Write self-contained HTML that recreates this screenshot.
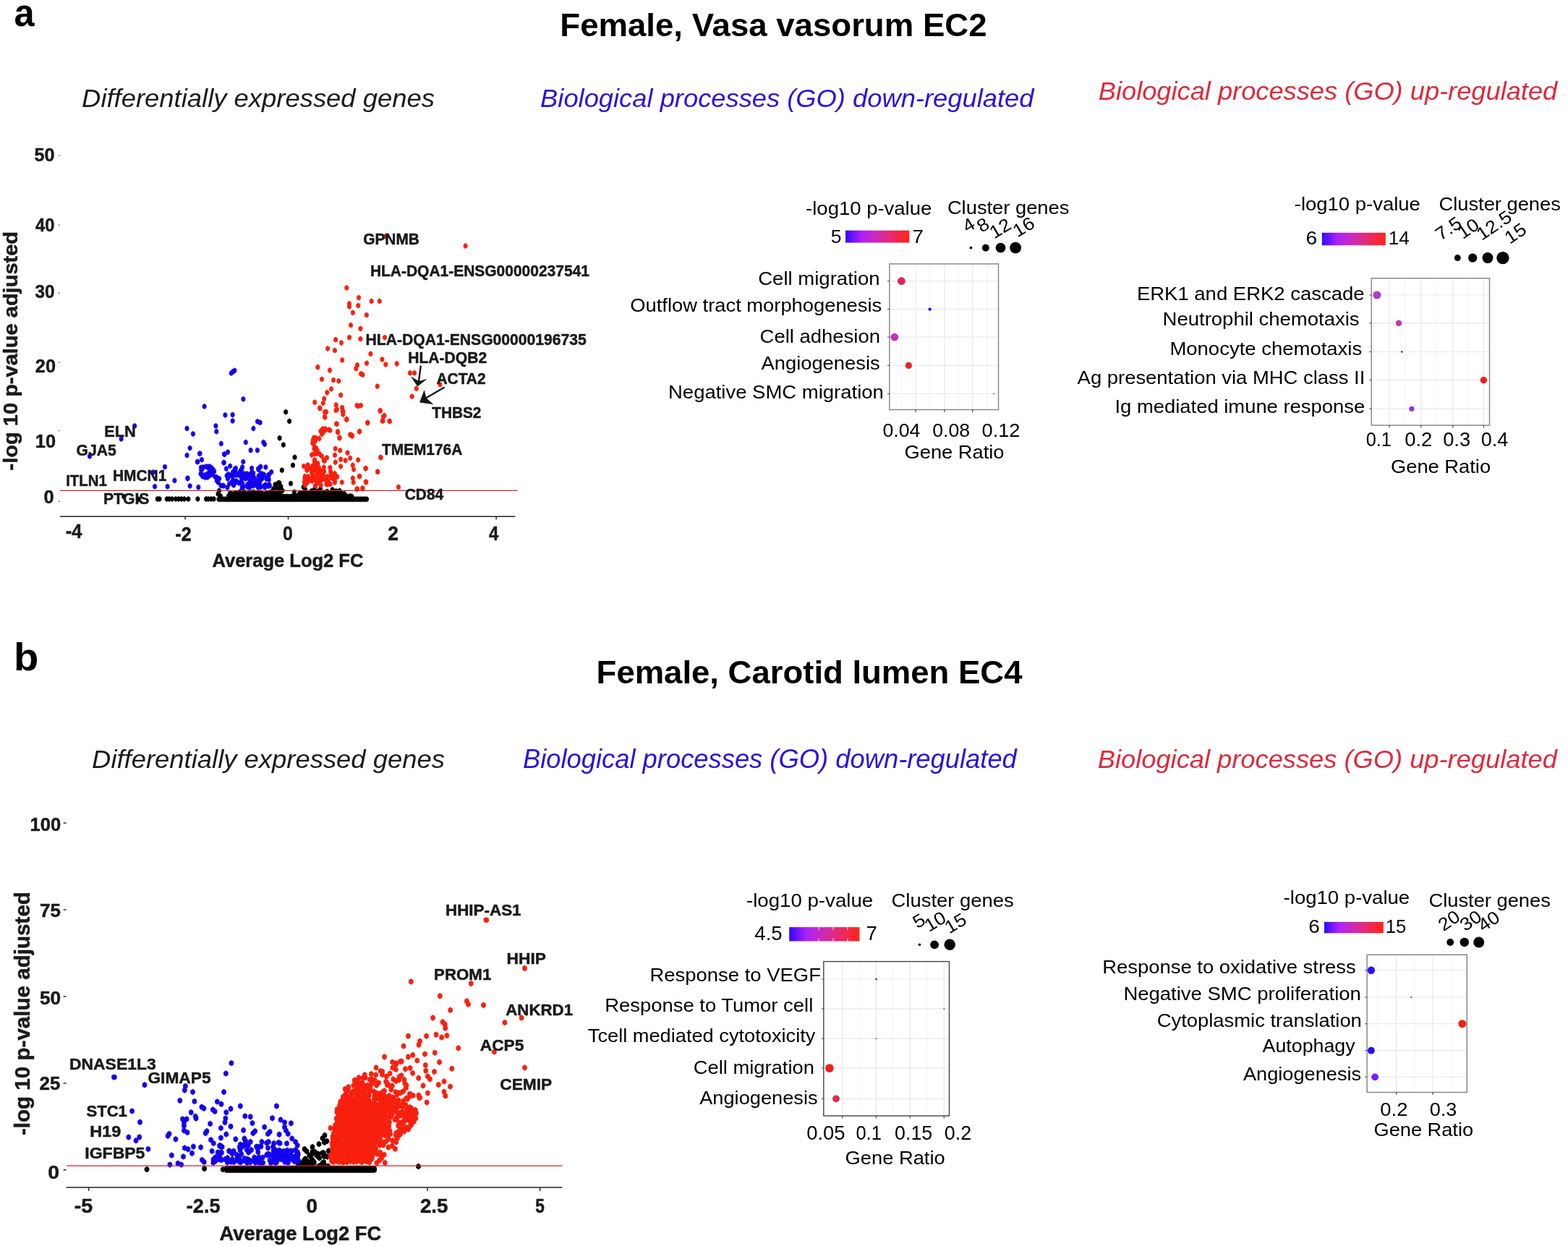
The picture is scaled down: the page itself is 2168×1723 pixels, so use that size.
<!DOCTYPE html>
<html><head><meta charset="utf-8"><title>Figure</title>
<style>html,body{margin:0;padding:0;background:#fff}svg{display:block;font-family:"Liberation Sans",sans-serif}</style></head>
<body><svg width="2168" height="1723" viewBox="0 0 2168 1723">
<defs><marker id="m0" markerUnits="userSpaceOnUse" markerWidth="12" markerHeight="12" viewBox="-6 -6 12 12" refX="0" refY="0" overflow="visible"><path d="M0 -3.70L2.60 -1.85V1.85L0 3.70L-2.60 1.85V-1.85Z" fill="#000" stroke="#000" stroke-width="0.6" stroke-linejoin="round"/></marker><marker id="m1" markerUnits="userSpaceOnUse" markerWidth="12" markerHeight="12" viewBox="-6 -6 12 12" refX="0" refY="0" overflow="visible"><path d="M0 -3.70L2.60 -1.85V1.85L0 3.70L-2.60 1.85V-1.85Z" fill="#1400f0" stroke="#1400f0" stroke-width="0.6" stroke-linejoin="round"/></marker><marker id="m2" markerUnits="userSpaceOnUse" markerWidth="12" markerHeight="12" viewBox="-6 -6 12 12" refX="0" refY="0" overflow="visible"><path d="M0 -3.70L2.60 -1.85V1.85L0 3.70L-2.60 1.85V-1.85Z" fill="#f8200f" stroke="#f8200f" stroke-width="0.6" stroke-linejoin="round"/></marker><marker id="m3" markerUnits="userSpaceOnUse" markerWidth="12" markerHeight="12" viewBox="-6 -6 12 12" refX="0" refY="0" overflow="visible"><path d="M0 -3.95L2.95 -1.98V1.98L0 3.95L-2.95 1.98V-1.98Z" fill="#000" stroke="#000" stroke-width="0.6" stroke-linejoin="round"/></marker><marker id="m4" markerUnits="userSpaceOnUse" markerWidth="12" markerHeight="12" viewBox="-6 -6 12 12" refX="0" refY="0" overflow="visible"><path d="M0 -3.95L2.95 -1.98V1.98L0 3.95L-2.95 1.98V-1.98Z" fill="#1400f0" stroke="#1400f0" stroke-width="0.6" stroke-linejoin="round"/></marker><marker id="m5" markerUnits="userSpaceOnUse" markerWidth="12" markerHeight="12" viewBox="-6 -6 12 12" refX="0" refY="0" overflow="visible"><path d="M0 -3.95L2.95 -1.98V1.98L0 3.95L-2.95 1.98V-1.98Z" fill="#f8200f" stroke="#f8200f" stroke-width="0.6" stroke-linejoin="round"/></marker><linearGradient id="cb" x1="0" x2="1" y1="0" y2="0"><stop offset="0" stop-color="#2a0cff"/><stop offset="0.08" stop-color="#5a10ff"/><stop offset="0.25" stop-color="#ae22f6"/><stop offset="0.5" stop-color="#cc2cb4"/><stop offset="0.72" stop-color="#e62a6c"/><stop offset="1" stop-color="#ff2416"/></linearGradient></defs>
<rect width="2168" height="1723" fill="#fff"/>
<text transform="translate(19.6 36.2) scale(0.936 1)" font-size="54" font-weight="bold">a</text>
<text transform="translate(774.3 49.6) scale(1.013 1)" font-size="45" font-weight="bold">Female, Vasa vasorum EC2</text>
<text transform="translate(113.1 147.8) scale(1.012 1)" font-size="36" font-style="italic" fill="#1a1a1a">Differentially expressed genes</text>
<text transform="translate(747.1 147.7) scale(1.009 1)" font-size="36" font-style="italic" fill="#2a10e0">Biological processes (GO) down-regulated</text>
<text transform="translate(1518.8 137.8) scale(1.007 1)" font-size="36" font-style="italic" fill="#e0283c">Biological processes (GO) up-regulated</text>
<text transform="translate(19.1 926.5) scale(1.041 1)" font-size="54" font-weight="bold">b</text>
<text transform="translate(824.6 945.3) scale(1.011 1)" font-size="45" font-weight="bold">Female, Carotid lumen EC4</text>
<text transform="translate(127.1 1062.0) scale(1.012 1)" font-size="36" font-style="italic" fill="#1a1a1a">Differentially expressed genes</text>
<text transform="translate(722.9 1062.0) scale(1.010 1)" font-size="36" font-style="italic" fill="#2a10e0">Biological processes (GO) down-regulated</text>
<text transform="translate(1517.8 1062.0) scale(1.008 1)" font-size="36" font-style="italic" fill="#e0283c">Biological processes (GO) up-regulated</text>
<text transform="translate(47.4 222.8) scale(0.952 1)" font-size="26.5" font-weight="bold" fill="#1a1a1a" stroke="#1a1a1a" stroke-width="0.5">50</text>
<text transform="translate(49.1 320.4) scale(0.893 1)" font-size="26.5" font-weight="bold" fill="#1a1a1a" stroke="#1a1a1a" stroke-width="0.5">40</text>
<text transform="translate(48.5 412.2) scale(0.916 1)" font-size="26.5" font-weight="bold" fill="#1a1a1a" stroke="#1a1a1a" stroke-width="0.5">30</text>
<text transform="translate(48.8 514.5) scale(0.956 1)" font-size="26.5" font-weight="bold" fill="#1a1a1a" stroke="#1a1a1a" stroke-width="0.5">20</text>
<text transform="translate(48.8 618.9) scale(0.956 1)" font-size="26.5" font-weight="bold" fill="#1a1a1a" stroke="#1a1a1a" stroke-width="0.5">10</text>
<text transform="translate(60.4 695.5) scale(0.957 1)" font-size="26.5" font-weight="bold" fill="#1a1a1a" stroke="#1a1a1a" stroke-width="0.5">0</text>
<line x1="80.8" y1="215.1" x2="82.8" y2="215.1" stroke="#333" stroke-width="1"/>
<line x1="80.8" y1="311.2" x2="82.8" y2="311.2" stroke="#333" stroke-width="1"/>
<line x1="80.8" y1="405.3" x2="82.8" y2="405.3" stroke="#333" stroke-width="1"/>
<line x1="80.8" y1="501.1" x2="82.8" y2="501.1" stroke="#333" stroke-width="1"/>
<line x1="80.8" y1="595.3" x2="82.8" y2="595.3" stroke="#333" stroke-width="1"/>
<line x1="80.8" y1="693.4" x2="82.8" y2="693.4" stroke="#333" stroke-width="1"/>
<g transform="translate(23.8,649.3) rotate(-90)">
<text transform="translate(-1.1 0.0) scale(1.075 1)" font-size="27" font-weight="bold" fill="#1a1a1a" stroke="#1a1a1a" stroke-width="0.5">-log 10 p-value adjusted</text>
</g>
<line x1="83.0" y1="714.2" x2="712.5" y2="714.2" stroke="#222" stroke-width="1.6"/>
<line x1="256.0" y1="714.2" x2="256.0" y2="718.5" stroke="#222" stroke-width="1.4"/>
<line x1="398.5" y1="714.2" x2="398.5" y2="718.5" stroke="#222" stroke-width="1.4"/>
<line x1="686.1" y1="714.2" x2="686.1" y2="718.5" stroke="#222" stroke-width="1.4"/>
<text transform="translate(90.7 744.4) scale(0.932 1)" font-size="27.3" font-weight="bold" fill="#1a1a1a" stroke="#1a1a1a" stroke-width="0.5">-4</text>
<text transform="translate(242.3 747.8) scale(0.921 1)" font-size="27.3" font-weight="bold" fill="#1a1a1a" stroke="#1a1a1a" stroke-width="0.5">-2</text>
<text transform="translate(391.0 747.4) scale(0.906 1)" font-size="27.3" font-weight="bold" fill="#1a1a1a" stroke="#1a1a1a" stroke-width="0.5">0</text>
<text transform="translate(536.3 747.4) scale(0.971 1)" font-size="27.3" font-weight="bold" fill="#1a1a1a" stroke="#1a1a1a" stroke-width="0.5">2</text>
<text transform="translate(676.1 746.9) scale(0.875 1)" font-size="27.3" font-weight="bold" fill="#1a1a1a" stroke="#1a1a1a" stroke-width="0.5">4</text>
<text transform="translate(293.5 783.7) scale(0.967 1)" font-size="26.4" font-weight="bold" fill="#1a1a1a" stroke="#1a1a1a" stroke-width="0.5">Average Log2 FC</text>
<path d="M395.2 569.7L400.1 582.5L386.6 605.8L391.8 615.1L407.5 632.3L405.0 643.3L389.8 650.2L402.0 668.6L384.9 667.8L171.3 686.7L191.7 690.5L217.7 690.0L220.5 690.0L230.7 690.0L234.0 690.0L238.0 690.0L243.0 690.0L247.0 690.0L251.0 690.0L255.0 690.0L260.4 690.0L273.4 690.0L285.0 690.0L288.0 690.0L292.0 690.0L295.6 690.0L302.5 690.3L304.7 690.3L306.9 690.3L309.1 690.3L311.3 690.3L313.5 690.3L315.7 690.3L317.9 690.3L320.1 690.3L322.3 690.3L324.5 690.3L326.7 690.3L328.9 690.3L331.1 690.3L333.3 690.3L335.5 690.3L337.7 690.3L339.9 690.3L342.1 690.3L344.3 690.3L346.5 690.3L348.7 690.3L350.9 690.3L353.1 690.3L355.3 690.3L357.5 690.3L359.7 690.3L361.9 690.3L364.1 690.3L366.3 690.3L368.5 690.3L370.7 690.3L372.9 690.3L375.1 690.3L377.3 690.3L379.5 690.3L381.7 690.3L383.9 690.3L386.1 690.3L388.3 690.3L390.5 690.3L392.7 690.3L394.9 690.3L397.1 690.3L399.3 690.3L401.5 690.3L403.7 690.3L405.9 690.3L408.1 690.3L410.3 690.3L412.5 690.3L414.7 690.3L416.9 690.3L419.1 690.3L421.3 690.3L423.5 690.3L425.7 690.3L427.9 690.3L430.1 690.3L432.3 690.3L434.5 690.3L436.7 690.3L438.9 690.3L441.1 690.3L443.3 690.3L445.5 690.3L447.7 690.3L449.9 690.3L452.1 690.3L454.3 690.3L456.5 690.3L458.7 690.3L460.9 690.3L463.1 690.3L465.3 690.3L467.5 690.3L469.7 690.3L471.9 690.3L474.1 690.3L476.3 690.3L478.5 690.3L480.7 690.3L482.9 690.3L485.1 690.3L487.3 690.3L489.5 690.3L491.7 690.3L493.9 690.3L496.1 690.3L498.3 690.3L500.5 690.3L502.7 690.3L504.9 690.3L507.1 690.3L316.0 685.9L318.4 686.1L320.8 686.1L323.2 686.5L325.6 685.9L328.0 686.4L330.4 686.1L332.8 686.2L335.2 686.9L337.6 686.1L340.0 686.6L342.4 686.4L344.8 686.4L347.2 686.9L349.6 686.1L352.0 687.0L354.4 687.0L356.8 686.7L359.2 686.0L361.6 686.7L364.0 686.6L366.4 686.8L368.8 686.2L371.2 687.0L373.6 687.0L376.0 686.0L378.4 686.3L380.8 685.9L383.2 686.9L385.6 687.0L388.0 687.1L390.4 686.6L392.8 686.7L395.2 686.7L397.6 686.6L400.0 687.0L402.4 686.6L404.8 686.3L407.2 686.5L409.6 685.9L412.0 686.8L414.4 686.7L416.8 686.4L419.2 686.9L421.6 686.8L424.0 686.3L426.4 686.0L428.8 686.1L431.2 686.1L433.6 686.3L436.0 686.4L438.4 687.0L440.8 686.2L443.2 687.0L445.6 686.7L448.0 686.9L450.4 686.4L452.8 685.9L455.2 686.8L457.6 686.2L460.0 686.1L462.4 686.9L464.8 686.7L467.2 686.2L469.6 686.2L472.0 687.0L474.4 686.2L476.8 686.7L479.2 686.1L481.6 686.9L484.0 686.0L486.4 686.5L318.0 682.1L320.3 682.9L322.6 683.4L324.9 682.1L327.2 682.4L329.5 683.2L331.8 683.0L334.1 682.5L336.4 683.0L338.7 682.7L341.0 683.4L343.3 682.5L345.6 683.2L347.9 683.0L350.2 683.2L352.5 682.6L354.8 683.2L357.1 683.1L359.4 682.6L361.7 682.0L364.0 683.5L366.3 683.1L368.6 682.3L370.9 683.2L373.2 682.4L375.5 682.8L377.8 683.4L380.1 682.7L382.4 682.5L384.7 682.5L387.0 682.1L414.0 682.4L416.3 682.4L418.6 682.3L420.9 682.1L423.2 682.7L425.5 682.3L427.8 683.2L430.1 683.5L432.4 682.4L434.7 682.9L437.0 682.8L439.3 682.1L441.6 682.2L443.9 683.4L446.2 682.8L448.5 683.3L450.8 682.1L453.1 683.0L455.4 683.4L457.7 683.4L460.0 682.0L462.3 682.8L464.6 682.6L466.9 683.2L469.2 682.1L471.5 682.4L473.8 683.3L476.1 682.8L350.8 680.4L374.6 681.5L344.7 680.7L331.9 679.9L348.0 680.6L337.1 679.6L333.8 680.8L356.1 681.8L373.9 680.7L356.7 681.0L424.3 681.9L452.4 679.6L464.7 679.0L422.4 681.9L447.8 681.7L459.5 681.9L439.0 679.4L430.7 679.0L437.1 682.0L447.6 681.5L456.6 681.8L448.7 681.1L378.0 676.0L380.5 670.0L383.0 674.5L385.0 678.0L386.5 668.0L388.5 673.0L390.5 678.5L377.0 679.0L419.6 673.5L422.0 677.0L435.0 676.5L443.0 676.5L459.6 677.0L469.5 678.5L407.0 684.0L407.0 680.5L301.5 683.0L303.0 678.5L305.0 686.0" fill="none" stroke="none" marker-start="url(#m0)" marker-mid="url(#m0)" marker-end="url(#m0)"/>
<path d="M124.0 631.0L167.6 607.0L186.2 589.0L214.0 672.8L212.0 653.0L228.0 645.6L231.6 672.8L241.4 664.5L258.5 592.5L266.9 600.0L262.6 619.6L258.5 629.6L259.4 661.7L262.6 672.0L274.3 673.8L276.0 627.4L279.0 635.7L273.4 638.5L282.6 562.0L298.4 589.0L299.3 596.8L305.8 613.5L311.4 574.0L321.6 573.6L321.6 582.0L319.7 516.0L322.0 514.0L324.4 512.4L336.4 551.9L310.5 628.3L315.0 625.2L309.5 639.4L339.8 611.6L346.6 622.7L355.9 622.7L350.4 592.5L355.9 582.9L359.6 584.3L364.3 611.6L366.0 614.4L290.9 653.1L290.0 654.6L290.4 657.2L286.9 660.1L283.6 660.2L280.2 658.8L278.3 655.5L277.6 655.4L278.2 650.5L279.9 648.2L281.0 646.0L285.1 645.2L286.2 645.4L288.4 647.4L290.5 651.9L292.0 646.5L289.5 645.0L278.0 646.5L293.0 656.0L287.0 655.0L283.0 657.0L294.0 651.4L308.4 671.6L292.1 651.4L294.7 652.5L309.1 671.8L300.7 664.7L297.4 659.3L294.6 649.1L303.1 661.9L301.7 667.2L305.6 671.5L296.0 651.8L300.8 662.1L299.7 664.5L299.8 660.0L366.6 670.7L342.1 673.2L346.9 666.1L333.3 658.8L359.1 657.8L315.5 659.5L336.3 672.2L315.8 655.8L321.4 658.1L372.0 656.5L353.5 663.8L339.7 655.7L345.4 673.5L366.4 673.9L334.7 674.1L349.4 669.3L355.0 669.4L335.3 670.7L345.1 662.9L359.9 673.7L368.6 662.4L323.1 671.1L370.0 660.6L314.3 674.1L359.2 668.1L362.6 655.3L322.2 663.5L339.1 657.9L362.9 661.0L314.9 662.0L351.7 670.6L361.6 662.7L344.8 673.7L357.6 658.1L327.6 654.8L325.9 657.0L335.8 673.5L324.8 667.6L334.8 668.0L370.9 672.2L348.4 661.7L334.4 658.2L330.3 668.1L371.1 656.8L340.7 658.2L372.8 671.9L344.9 658.8L345.3 656.4L367.8 670.5L358.6 662.7L348.8 661.4L339.6 662.0L366.7 672.5L338.7 660.9L369.4 661.5L318.1 657.6L339.8 658.0L345.2 667.8L371.1 659.7L329.1 656.7L362.4 656.2L354.6 671.2L357.0 674.0L351.8 661.2L372.3 670.1L334.0 662.9L337.9 655.1L326.2 666.7L317.0 669.3L326.8 665.1L368.9 661.0L364.4 672.4L320.7 666.7L350.2 671.8L342.8 660.9L349.7 657.5L353.6 666.8L332.4 666.9L371.7 663.4L342.0 670.1L351.7 669.4L352.1 667.7L341.8 655.1L322.2 652.7L357.1 648.2L348.1 653.2L333.6 649.9L322.0 656.0L357.7 649.7L324.8 649.2L324.9 648.7L324.8 650.3L322.2 653.3L365.1 656.4L332.0 651.8L333.9 649.4L361.3 655.1L350.2 654.3L312.9 648.2L313.6 657.9L318.1 644.5L325.9 647.5L336.3 638.6L335.1 646.0L332.9 651.9L348.1 647.5L360.4 645.3L367.4 646.0L375.2 652.7L309.9 628.2L309.5 640.1L259.5 661.2L276.5 627.1L272.8 638.6" fill="none" stroke="none" marker-start="url(#m1)" marker-mid="url(#m1)" marker-end="url(#m1)"/>
<path d="M533.3 327.0L643.6 340.0L479.3 398.0L496.0 411.6L513.6 416.5L524.7 416.5L483.0 420.0L483.0 424.0L495.3 422.6L487.9 432.4L506.8 435.6L485.0 449.6L498.4 454.5L483.0 466.7L498.4 468.7L464.1 469.7L472.0 474.0L532.0 466.7L453.0 482.0L462.9 484.6L512.4 489.3L473.2 498.0L528.4 497.0L533.3 504.0L548.7 503.0L507.0 502.3L494.0 504.8L492.3 509.7L439.3 507.7L456.0 512.0L499.0 517.0L501.4 518.2L566.9 515.8L573.0 515.8L445.0 524.4L461.0 525.6L468.3 526.8L521.7 534.2L608.5 531.7L575.7 537.4L569.6 548.2L458.0 537.9L452.3 542.8L471.2 546.4L448.2 551.4L446.7 557.5L435.2 556.3L464.6 560.0L465.8 566.0L473.2 563.6L474.4 569.7L493.5 560.7L499.0 560.7L442.5 564.8L451.0 569.7L449.4 577.0L525.9 567.8L531.5 574.6L529.6 582.0L538.9 582.5L479.3 580.3L508.3 584.4L465.8 586.4L446.2 593.0L449.9 593.0L454.8 594.3L497.2 596.7L467.0 598.0L469.5 605.3L484.2 601.0L486.7 602.0L445.0 600.4L441.3 606.5L434.0 605.3L526.6 632.8L522.2 652.4L505.8 647.7L550.9 673.5L497.2 658.5L506.3 667.0L501.4 675.2L493.5 676.4L456.4 595.1L467.0 596.8L469.4 605.8L465.0 586.1L485.0 601.7L487.0 603.0L496.8 596.8L508.3 584.9L479.2 579.6L449.0 569.8L449.0 576.3L442.1 564.1L464.5 567.4L473.9 568.2L474.3 573.1L525.4 568.2L529.9 576.3L528.7 582.1L538.5 582.5L495.6 561.6L463.7 620.5L470.3 622.9L462.9 629.4L480.5 626.2L471.1 635.2L477.6 636.8L484.2 633.5L495.2 636.0L463.7 639.2L471.1 645.0L456.4 646.6L487.8 643.3L489.0 649.1L505.4 647.8L522.1 652.3L526.2 632.3L496.8 658.9L487.8 661.3L488.6 667.0L505.8 666.2L472.7 667.0L494.0 676.0L501.3 675.2L462.9 654.8L457.0 652.0L436.9 620.2L446.9 597.6L431.1 629.0L436.5 644.0L434.3 611.1L435.1 635.7L432.5 613.1L449.7 594.7L433.4 609.0L436.0 610.1L433.6 611.4L432.7 643.9L434.9 637.5L432.7 644.1L432.6 612.4L439.4 640.8L443.4 596.2L434.1 609.8L435.0 617.9L437.1 643.8L432.7 608.8L436.8 619.5L435.1 637.4L434.1 627.8L436.7 605.6L434.4 620.5L448.6 637.4L438.9 623.2L442.0 628.0L444.8 630.6L437.6 627.3L436.5 623.5L447.6 636.2L448.2 636.4L451.9 632.9L424.4 661.6L441.8 659.0L424.4 650.3L446.6 657.9L437.1 662.9L429.2 648.2L447.1 661.6L424.1 647.7L434.7 649.4L422.2 659.6L448.0 651.6L436.5 672.0L443.2 661.3L427.8 647.2L443.2 655.6L440.2 656.3L438.5 653.1L447.5 652.7L432.3 655.5L431.7 660.4L439.9 667.5L444.1 664.2L429.4 664.2L439.3 660.1L425.7 643.0L435.8 662.4L442.2 659.6L421.4 661.9L441.0 655.6L420.0 644.6L447.8 646.3L433.3 661.7L431.6 665.0L440.8 646.5L434.9 658.2L441.1 652.4L422.0 670.8L436.1 647.0L436.0 663.6L447.0 658.2L420.7 667.1L432.9 660.4L438.1 648.2L435.7 648.2L421.7 658.8L437.0 650.0L426.1 659.3L425.3 661.8L445.4 656.6L425.3 667.0L432.9 663.5L441.6 651.8L440.4 649.9L435.8 671.3L443.3 651.0L433.2 648.5L437.8 659.6L443.7 671.1L439.5 652.5L438.4 665.6L431.5 653.7L436.0 661.7L431.2 653.9L441.5 665.3L457.6 656.3L458.4 660.8L460.4 661.4L452.7 658.9L466.3 659.2L454.2 666.2L454.5 667.6L453.6 664.6L450.2 663.7L456.6 669.6L462.9 664.5L461.8 661.1L452.5 669.7L451.5 669.7L454.8 669.0L462.8 667.2L457.8 655.7" fill="none" stroke="none" marker-start="url(#m2)" marker-mid="url(#m2)" marker-end="url(#m2)"/>
<line x1="83.0" y1="678.3" x2="715.5" y2="678.3" stroke="#d0202a" stroke-width="1.3"/>
<text transform="translate(502.2 338.3) scale(0.981 1)" font-size="21.3" font-weight="bold" fill="#1a1a1a" stroke="#1a1a1a" stroke-width="0.5">GPNMB</text>
<text transform="translate(511.9 382.3) scale(0.985 1)" font-size="21.3" font-weight="bold" fill="#1a1a1a" stroke="#1a1a1a" stroke-width="0.5">HLA-DQA1-ENSG00000237541</text>
<text transform="translate(505.6 477.4) scale(0.992 1)" font-size="21.3" font-weight="bold" fill="#1a1a1a" stroke="#1a1a1a" stroke-width="0.5">HLA-DQA1-ENSG00000196735</text>
<text transform="translate(564.2 502.3) scale(0.991 1)" font-size="21.3" font-weight="bold" fill="#1a1a1a" stroke="#1a1a1a" stroke-width="0.5">HLA-DQB2</text>
<text transform="translate(603.4 530.9) scale(0.983 1)" font-size="21.3" font-weight="bold" fill="#1a1a1a" stroke="#1a1a1a" stroke-width="0.5">ACTA2</text>
<text transform="translate(597.2 578.0) scale(0.977 1)" font-size="21.3" font-weight="bold" fill="#1a1a1a" stroke="#1a1a1a" stroke-width="0.5">THBS2</text>
<text transform="translate(527.9 629.4) scale(0.981 1)" font-size="21.3" font-weight="bold" fill="#1a1a1a" stroke="#1a1a1a" stroke-width="0.5">TMEM176A</text>
<text transform="translate(559.8 690.8) scale(0.980 1)" font-size="21.3" font-weight="bold" fill="#1a1a1a" stroke="#1a1a1a" stroke-width="0.5">CD84</text>
<text transform="translate(144.3 604.2) scale(1.018 1)" font-size="21.3" font-weight="bold" fill="#1a1a1a" stroke="#1a1a1a" stroke-width="0.5">ELN</text>
<text transform="translate(105.5 630.2) scale(0.993 1)" font-size="21.3" font-weight="bold" fill="#1a1a1a" stroke="#1a1a1a" stroke-width="0.5">GJA5</text>
<text transform="translate(91.2 671.9) scale(0.956 1)" font-size="21.3" font-weight="bold" fill="#1a1a1a" stroke="#1a1a1a" stroke-width="0.5">ITLN1</text>
<text transform="translate(156.0 664.5) scale(0.982 1)" font-size="21.3" font-weight="bold" fill="#1a1a1a" stroke="#1a1a1a" stroke-width="0.5">HMCN1</text>
<text transform="translate(143.0 697.0) scale(0.992 1)" font-size="21.3" font-weight="bold" fill="#1a1a1a" stroke="#1a1a1a" stroke-width="0.5">PTGIS</text>
<line x1="581.8" y1="505.6" x2="578.9" y2="527.5" stroke="#151515" stroke-width="2.4"/>
<path d="M577.3 534.4L567.9 520.5L578.9 526.9L590.6 524.1Z" fill="#151515"/>
<line x1="614.6" y1="535.5" x2="588.3" y2="550.8" stroke="#151515" stroke-width="2.4"/>
<path d="M580.0 556.4L586.7 539L589.2 550.2L599.4 559.2Z" fill="#151515"/>
<text transform="translate(41.6 1148.5) scale(0.964 1)" font-size="26.5" font-weight="bold" fill="#1a1a1a" stroke="#1a1a1a" stroke-width="0.5">100</text>
<text transform="translate(55.1 1267.7) scale(0.977 1)" font-size="26.5" font-weight="bold" fill="#1a1a1a" stroke="#1a1a1a" stroke-width="0.5">75</text>
<text transform="translate(55.0 1388.7) scale(0.992 1)" font-size="26.5" font-weight="bold" fill="#1a1a1a" stroke="#1a1a1a" stroke-width="0.5">50</text>
<text transform="translate(54.5 1506.9) scale(0.977 1)" font-size="26.5" font-weight="bold" fill="#1a1a1a" stroke="#1a1a1a" stroke-width="0.5">25</text>
<text transform="translate(66.3 1630.4) scale(1.076 1)" font-size="26.5" font-weight="bold" fill="#1a1a1a" stroke="#1a1a1a" stroke-width="0.5">0</text>
<line x1="87.6" y1="1138.1" x2="91.7" y2="1138.1" stroke="#222" stroke-width="1.4"/>
<line x1="87.6" y1="1258.0" x2="91.7" y2="1258.0" stroke="#222" stroke-width="1.4"/>
<line x1="87.6" y1="1377.9" x2="91.7" y2="1377.9" stroke="#222" stroke-width="1.4"/>
<line x1="87.6" y1="1497.9" x2="91.7" y2="1497.9" stroke="#222" stroke-width="1.4"/>
<line x1="87.6" y1="1617.7" x2="91.7" y2="1617.7" stroke="#222" stroke-width="1.4"/>
<g transform="translate(41.2,1568.9) rotate(-90)">
<text transform="translate(-1.2 0.0) scale(1.028 1)" font-size="28.8" font-weight="bold" fill="#1a1a1a" stroke="#1a1a1a" stroke-width="0.5">-log 10 p-value adjusted</text>
</g>
<line x1="91.7" y1="1642.0" x2="777.3" y2="1642.0" stroke="#222" stroke-width="1.6"/>
<line x1="122.8" y1="1642.0" x2="122.8" y2="1647.0" stroke="#222" stroke-width="1.4"/>
<line x1="591.0" y1="1642.0" x2="591.0" y2="1647.0" stroke="#222" stroke-width="1.4"/>
<line x1="746.6" y1="1642.0" x2="746.6" y2="1647.0" stroke="#222" stroke-width="1.4"/>
<text transform="translate(102.7 1677.3) scale(1.058 1)" font-size="27" font-weight="bold" fill="#1a1a1a" stroke="#1a1a1a" stroke-width="0.5">-5</text>
<text transform="translate(257.8 1677.3) scale(1.004 1)" font-size="27" font-weight="bold" fill="#1a1a1a" stroke="#1a1a1a" stroke-width="0.5">-2.5</text>
<text transform="translate(423.6 1677.3) scale(1.033 1)" font-size="27" font-weight="bold" fill="#1a1a1a" stroke="#1a1a1a" stroke-width="0.5">0</text>
<text transform="translate(581.0 1677.3) scale(1.023 1)" font-size="27" font-weight="bold" fill="#1a1a1a" stroke="#1a1a1a" stroke-width="0.5">2.5</text>
<text transform="translate(740.3 1677.3) scale(0.839 1)" font-size="27" font-weight="bold" fill="#1a1a1a" stroke="#1a1a1a" stroke-width="0.5">5</text>
<text transform="translate(303.6 1714.5) scale(1.020 1)" font-size="26.8" font-weight="bold" fill="#1a1a1a" stroke="#1a1a1a" stroke-width="0.5">Average Log2 FC</text>
<path d="M203.0 1617.0L282.6 1616.1L308.2 1617.1L578.5 1613.0L313.0 1616.1L313.0 1617.9L315.2 1616.1L315.2 1617.9L317.4 1616.1L317.4 1617.9L319.6 1616.1L319.6 1617.9L321.8 1616.1L321.8 1617.9L324.0 1616.1L324.0 1617.9L326.2 1616.1L326.2 1617.9L328.4 1616.1L328.4 1617.9L330.6 1616.1L330.6 1617.9L332.8 1616.1L332.8 1617.9L335.0 1616.1L335.0 1617.9L337.2 1616.1L337.2 1617.9L339.4 1616.1L339.4 1617.9L341.6 1616.1L341.6 1617.9L343.8 1616.1L343.8 1617.9L346.0 1616.1L346.0 1617.9L348.2 1616.1L348.2 1617.9L350.4 1616.1L350.4 1617.9L352.6 1616.1L352.6 1617.9L354.8 1616.1L354.8 1617.9L357.0 1616.1L357.0 1617.9L359.2 1616.1L359.2 1617.9L361.4 1616.1L361.4 1617.9L363.6 1616.1L363.6 1617.9L365.8 1616.1L365.8 1617.9L368.0 1616.1L368.0 1617.9L370.2 1616.1L370.2 1617.9L372.4 1616.1L372.4 1617.9L374.6 1616.1L374.6 1617.9L376.8 1616.1L376.8 1617.9L379.0 1616.1L379.0 1617.9L381.2 1616.1L381.2 1617.9L383.4 1616.1L383.4 1617.9L385.6 1616.1L385.6 1617.9L387.8 1616.1L387.8 1617.9L390.0 1616.1L390.0 1617.9L392.2 1616.1L392.2 1617.9L394.4 1616.1L394.4 1617.9L396.6 1616.1L396.6 1617.9L398.8 1616.1L398.8 1617.9L401.0 1616.1L401.0 1617.9L403.2 1616.1L403.2 1617.9L405.4 1616.1L405.4 1617.9L407.6 1616.1L407.6 1617.9L409.8 1616.1L409.8 1617.9L412.0 1616.1L412.0 1617.9L414.2 1616.1L414.2 1617.9L416.4 1616.1L416.4 1617.9L418.6 1616.1L418.6 1617.9L420.8 1616.1L420.8 1617.9L423.0 1616.1L423.0 1617.9L425.2 1616.1L425.2 1617.9L427.4 1616.1L427.4 1617.9L429.6 1616.1L429.6 1617.9L431.8 1616.1L431.8 1617.9L434.0 1616.1L434.0 1617.9L436.2 1616.1L436.2 1617.9L438.4 1616.1L438.4 1617.9L440.6 1616.1L440.6 1617.9L442.8 1616.1L442.8 1617.9L445.0 1616.1L445.0 1617.9L447.2 1616.1L447.2 1617.9L449.4 1616.1L449.4 1617.9L451.6 1616.1L451.6 1617.9L453.8 1616.1L453.8 1617.9L456.0 1616.1L456.0 1617.9L458.2 1616.1L458.2 1617.9L460.4 1616.1L460.4 1617.9L462.6 1616.1L462.6 1617.9L464.8 1616.1L464.8 1617.9L467.0 1616.1L467.0 1617.9L469.2 1616.1L469.2 1617.9L471.4 1616.1L471.4 1617.9L473.6 1616.1L473.6 1617.9L475.8 1616.1L475.8 1617.9L478.0 1616.1L478.0 1617.9L480.2 1616.1L480.2 1617.9L482.4 1616.1L482.4 1617.9L484.6 1616.1L484.6 1617.9L486.8 1616.1L486.8 1617.9L489.0 1616.1L489.0 1617.9L491.2 1616.1L491.2 1617.9L493.4 1616.1L493.4 1617.9L495.6 1616.1L495.6 1617.9L497.8 1616.1L497.8 1617.9L500.0 1616.1L500.0 1617.9L502.2 1616.1L502.2 1617.9L504.4 1616.1L504.4 1617.9L506.6 1616.1L506.6 1617.9L508.8 1616.1L508.8 1617.9L511.0 1616.1L511.0 1617.9L513.2 1616.1L513.2 1617.9L515.4 1616.1L515.4 1617.9L517.6 1616.1L517.6 1617.9L441.6 1601.2L431.1 1602.8L448.6 1611.9L423.9 1612.7L447.6 1607.1L431.7 1606.0L454.1 1614.0L420.1 1605.8L432.1 1609.1L453.5 1612.6L412.7 1611.7L448.1 1599.0L423.7 1604.6L418.9 1611.5L419.5 1611.5L412.3 1613.3L431.9 1592.7L428.7 1606.8L418.6 1612.7L422.1 1602.4L417.6 1610.1L448.6 1578.7L443.0 1611.5L452.5 1599.5L435.2 1592.7L412.7 1612.3L445.5 1594.5L420.5 1604.8L422.5 1611.7L448.7 1579.8L423.6 1609.5L449.4 1598.4L422.0 1611.3L439.8 1595.6L425.6 1612.7L446.3 1607.9L422.8 1612.0L422.2 1613.4L429.0 1612.5L440.5 1613.0L427.7 1597.7L432.2 1595.3L422.0 1605.6L415.8 1608.6L454.3 1591.6L420.9 1606.8L447.4 1594.2L446.2 1609.4L446.4 1610.1L434.3 1608.0L421.4 1612.5L450.9 1613.4L433.6 1606.1L416.9 1613.8L431.2 1609.5L421.0 1589.0L424.0 1592.0L432.0 1586.0L441.0 1582.0L446.0 1574.0L449.0 1570.0L452.0 1578.0L438.0 1598.0" fill="none" stroke="none" marker-start="url(#m3)" marker-mid="url(#m3)" marker-end="url(#m3)"/>
<path d="M200.0 1500.2L182.6 1536.4L193.5 1551.8L177.8 1572.5L192.8 1572.5L188.0 1577.2L204.9 1588.9L319.9 1470.1L312.3 1484.4L256.3 1502.0L255.3 1507.6L266.5 1510.0L309.5 1510.0L248.8 1521.9L268.9 1523.0L300.4 1523.4L306.0 1526.7L332.3 1529.5L382.4 1529.5L278.9 1530.8L281.9 1532.7L294.3 1534.5L297.1 1536.9L319.0 1533.2L264.2 1538.2L312.8 1538.2L270.2 1543.8L271.1 1546.6L338.8 1543.4L346.2 1544.3L376.5 1546.2L388.0 1548.4L252.5 1547.5L258.1 1547.5L254.4 1552.1L254.4 1556.8L290.6 1554.0L311.9 1546.6L311.0 1552.1L349.0 1553.1L393.5 1552.1L402.4 1553.2L319.0 1557.7L305.4 1559.9L365.7 1558.6L393.5 1558.6L395.4 1563.3L336.6 1562.9L254.4 1563.3L259.0 1566.0L285.9 1564.2L284.1 1567.0L352.7 1564.2L349.9 1567.0L373.1 1565.1L370.4 1567.9L234.0 1567.9L232.1 1570.7L312.8 1568.5L386.1 1568.8L398.2 1567.9L403.7 1574.4L242.9 1575.3L305.4 1573.5L325.8 1575.3L291.5 1576.3L295.2 1580.9L337.9 1574.4L339.7 1579.0L346.2 1579.0L362.0 1579.0L371.3 1579.0L387.0 1580.9L255.3 1587.4L260.0 1589.2L267.4 1585.5L265.5 1594.8L277.6 1586.5L237.3 1597.6L253.5 1599.4L279.4 1604.0L282.2 1606.9L234.9 1610.6L246.0 1608.7L250.7 1610.6L373.1 1604.2L298.2 1600.1L307.1 1585.9L334.9 1585.8L338.1 1602.0L357.6 1586.0L330.5 1601.2L304.4 1601.9L323.1 1591.8L378.4 1599.6L358.1 1600.2L302.2 1601.7L363.1 1600.6L319.4 1606.5L360.8 1607.5L293.1 1591.8L368.7 1597.2L306.3 1594.2L332.1 1590.4L350.2 1604.9L336.7 1604.9L306.6 1604.0L304.2 1603.5L317.0 1591.6L296.6 1601.9L311.1 1603.1L303.4 1595.3L332.9 1605.7L323.4 1607.0L343.6 1593.5L316.7 1591.8L295.0 1603.6L321.1 1595.3L358.5 1607.8L314.5 1601.2L327.6 1596.9L358.4 1604.5L327.8 1602.5L370.1 1596.0L372.8 1596.5L319.3 1606.2L356.8 1593.2L314.3 1607.3L304.3 1585.0L330.5 1605.4L345.0 1604.5L374.3 1605.5L304.8 1584.3L354.7 1603.8L333.8 1596.1L303.6 1584.3L377.6 1585.7L353.2 1607.7L303.3 1598.4L371.7 1596.2L301.1 1593.4L300.2 1602.8L321.2 1603.0L374.5 1608.0L294.9 1607.8L372.8 1597.6L345.8 1607.4L297.9 1605.4L342.0 1602.8L332.4 1607.4L341.6 1607.8L356.9 1586.4L351.7 1600.5L379.8 1605.4L305.8 1593.2L363.5 1608.0L328.2 1604.6L360.9 1585.3L370.5 1587.4L379.3 1595.3L381.3 1590.4L389.1 1598.3L379.0 1607.0L385.7 1600.3L378.9 1596.1L382.4 1607.0L400.2 1603.5L381.5 1607.7L383.5 1598.3L409.6 1601.1L389.7 1598.9L389.7 1602.7L381.0 1596.2L405.9 1604.9L401.7 1591.7L397.1 1590.7L399.6 1599.1L381.5 1599.6L387.1 1592.5L398.4 1602.8L411.3 1593.5L406.6 1602.8L400.4 1595.0L396.2 1602.0L378.5 1597.2L409.2 1591.3L380.3 1607.0L382.5 1593.5L402.3 1598.2L406.4 1601.2L405.5 1601.7L393.8 1606.8L384.2 1603.3L379.2 1596.8L407.8 1606.2L412.2 1596.0L386.5 1590.7L408.3 1590.3L392.1 1592.0L388.9 1593.5L395.7 1604.8L378.3 1590.5L393.5 1604.4L385.0 1592.4L402.9 1592.2L395.6 1596.8L408.4 1598.6L409.4 1604.4L389.1 1598.6L387.8 1602.8L410.9 1605.7L395.6 1605.7L381.4 1593.6L379.6 1591.4L412.7 1605.4L398.3 1607.8L379.9 1603.3L395.9 1605.6L395.6 1604.6L393.2 1597.5L411.3 1600.4L411.2 1600.3L382.4 1604.3L383.3 1596.0L392.3 1602.8L407.2 1600.8L399.8 1599.7L403.5 1591.7L398.2 1603.6L385.4 1595.1L406.6 1602.4L378.5 1591.9L402.4 1600.9L384.8 1598.9L394.5 1592.2L385.2 1579.9L337.7 1583.6L341.2 1589.9L411.2 1583.9L332.4 1582.6L354.7 1585.6L408.6 1579.0L331.2 1586.1L343.2 1584.3L347.5 1590.3L337.1 1583.5L368.7 1580.5L378.6 1581.0L356.1 1588.1L338.9 1577.1L396.5 1581.2" fill="none" stroke="none" marker-start="url(#m4)" marker-mid="url(#m4)" marker-end="url(#m4)"/>
<path d="M725.5 1339.0L651.3 1360.0L568.3 1357.4L608.3 1377.2L645.3 1384.4L647.4 1388.8L668.5 1390.0L622.7 1396.8L721.1 1407.5L698.0 1414.0L598.6 1407.5L612.0 1413.2L615.3 1416.5L615.8 1421.7L564.4 1432.7L589.6 1432.7L603.0 1430.7L610.7 1434.5L617.9 1432.0L580.6 1439.7L579.0 1444.8L558.0 1446.6L633.8 1449.4L683.4 1454.6L601.2 1455.8L587.5 1457.6L531.5 1461.5L564.4 1461.5L570.8 1458.9L576.8 1466.6L542.6 1468.7L547.7 1471.8L553.4 1467.9L607.6 1468.7L725.5 1476.4L520.0 1476.4L567.0 1476.9L588.3 1473.0L588.8 1480.8L624.8 1477.7L600.4 1482.0L591.4 1488.5L594.5 1492.3L614.0 1495.4L606.3 1500.0L622.5 1502.6L585.0 1501.3L614.0 1509.8L615.8 1515.4L591.4 1511.6L590.1 1524.4L579.8 1518.0L497.1 1498.7L477.1 1505.9L514.3 1492.3L475.8 1518.0L504.0 1511.6L569.0 1537.3L568.8 1555.3L547.7 1566.8L546.4 1588.7L533.6 1578.4L525.1 1583.5L527.2 1597.7L532.3 1607.9L457.0 1559.9L496.0 1568.6L525.5 1559.0L503.3 1603.1L484.1 1550.9L510.6 1607.2L518.9 1580.0L468.3 1559.3L473.3 1582.7L508.6 1559.5L513.4 1602.7L524.3 1563.3L483.9 1595.7L503.5 1584.5L493.5 1583.1L462.0 1588.3L540.0 1528.3L486.3 1595.8L462.7 1560.6L519.4 1549.6L506.9 1603.1L508.3 1540.0L499.6 1558.5L492.8 1540.3L502.9 1581.2L482.9 1528.8L480.0 1559.8L532.7 1531.4L519.9 1553.4L500.0 1537.4L502.4 1557.7L492.0 1543.9L509.9 1606.1L489.0 1597.9L465.8 1573.6L481.1 1540.5L467.6 1553.1L518.1 1586.9L493.1 1605.7L476.9 1545.5L493.9 1537.5L528.3 1542.0L487.4 1576.9L484.3 1579.0L496.4 1589.2L499.7 1606.7L502.5 1557.2L473.1 1584.4L523.5 1578.0L518.2 1539.4L483.3 1532.0L489.1 1548.0L498.8 1590.0L507.1 1600.2L473.6 1568.6L507.0 1566.4L539.5 1530.0L502.5 1528.3L487.1 1535.4L492.0 1564.1L481.2 1600.3L529.7 1559.4L482.3 1571.5L503.3 1589.1L469.3 1541.8L493.3 1605.9L466.4 1547.3L480.4 1564.2L519.1 1557.6L497.0 1558.9L489.9 1534.1L473.7 1606.6L489.4 1602.7L495.4 1572.5L492.2 1565.4L495.2 1546.5L501.5 1534.0L499.1 1569.5L478.4 1533.9L484.8 1585.1L519.8 1552.1L503.5 1600.6L476.8 1554.3L473.2 1603.7L512.9 1555.4L482.8 1591.2L523.0 1561.5L481.4 1558.6L525.6 1534.3L489.3 1531.8L492.0 1537.0L514.2 1557.1L525.0 1529.7L494.6 1576.3L510.4 1580.9L495.9 1555.2L529.7 1530.8L492.4 1553.8L500.0 1536.8L509.0 1546.1L528.2 1547.9L512.2 1560.9L503.8 1573.1L476.7 1592.5L498.0 1532.4L513.5 1560.0L477.4 1591.0L483.5 1553.6L475.6 1527.3L505.7 1542.3L466.9 1562.5L504.6 1588.0L509.5 1573.8L465.1 1546.8L503.6 1545.3L490.7 1571.0L464.3 1562.5L466.2 1558.2L475.2 1605.4L504.5 1548.2L502.1 1575.2L511.2 1583.3L467.8 1584.9L489.9 1598.7L473.3 1553.7L486.1 1534.7L470.6 1562.4L504.8 1586.5L488.8 1584.4L513.1 1586.9L464.1 1557.7L460.2 1571.7L479.8 1606.9L487.7 1531.6L531.7 1554.9L496.0 1547.7L479.9 1600.4L506.9 1591.3L480.3 1571.1L475.9 1583.4L467.2 1582.4L524.3 1572.3L497.9 1534.5L519.0 1571.0L510.3 1586.9L498.0 1547.2L523.6 1532.5L505.0 1589.4L495.5 1574.2L504.4 1604.8L491.2 1528.1L520.4 1542.3L515.8 1582.8L539.4 1535.6L480.8 1545.7L472.8 1598.9L500.3 1524.2L514.2 1534.0L502.8 1586.8L497.5 1565.6L501.2 1541.1L485.0 1596.5L468.7 1569.5L499.5 1595.1L478.9 1589.8L465.9 1558.8L483.7 1578.6L519.3 1544.3L506.7 1583.2L498.1 1582.0L508.7 1540.8L514.2 1602.3L495.7 1575.9L469.7 1529.6L521.7 1579.1L516.6 1577.8L502.8 1539.3L482.7 1526.3L476.4 1550.2L494.3 1582.4L509.0 1565.7L506.8 1598.8L491.5 1535.3L511.8 1543.9L464.0 1565.2L459.1 1588.6L473.5 1584.3L509.5 1548.0L497.1 1540.7L458.7 1599.6L521.1 1552.2L477.4 1601.6L518.8 1555.3L505.6 1579.7L522.3 1538.2L473.7 1572.5L501.3 1596.3L471.9 1544.7L490.5 1597.3L502.6 1578.8L511.9 1601.1L505.1 1565.9L481.2 1592.1L503.0 1533.8L487.4 1528.9L476.4 1555.6L502.7 1566.5L484.6 1605.9L458.9 1598.5L524.2 1566.8L516.7 1557.0L510.6 1538.9L497.4 1599.7L514.5 1549.2L528.9 1529.8L495.7 1560.3L465.3 1582.3L467.4 1544.9L491.4 1569.7L480.5 1585.0L470.2 1545.9L470.1 1535.2L495.6 1549.4L509.1 1554.8L471.4 1585.4L469.7 1590.7L501.3 1601.1L497.6 1577.0L530.9 1553.0L495.9 1562.6L488.2 1580.6L478.4 1556.8L484.3 1531.6L462.8 1568.1L484.6 1592.0L526.5 1535.0L518.1 1577.3L464.9 1574.5L476.8 1537.8L471.8 1598.5L505.3 1548.4L491.3 1538.6L460.2 1599.1L502.4 1541.9L504.5 1535.4L480.8 1548.4L489.7 1531.6L491.2 1591.3L514.6 1574.5L482.9 1579.3L466.1 1557.3L480.8 1589.0L515.5 1569.6L475.1 1594.8L470.1 1576.7L504.6 1592.6L513.0 1582.1L507.0 1577.2L486.8 1561.4L485.9 1568.1L495.7 1563.5L476.3 1600.4L512.5 1566.4L492.7 1589.3L459.9 1578.6L530.3 1528.3L471.8 1555.0L492.2 1582.2L492.0 1545.5L489.7 1600.0L466.6 1576.6L483.5 1544.8L487.8 1566.2L494.7 1571.5L494.7 1540.8L503.9 1535.3L477.5 1596.8L464.5 1601.7L487.1 1547.4L497.8 1595.8L499.2 1578.4L494.8 1527.9L486.7 1565.0L501.3 1573.3L495.2 1562.7L478.8 1561.1L485.1 1560.2L473.1 1553.5L511.5 1569.8L503.1 1574.0L489.7 1590.9L508.7 1598.8L501.7 1590.5L520.8 1563.4L487.8 1529.8L477.9 1544.8L514.4 1587.9L508.7 1596.5L479.4 1600.7L473.4 1556.4L507.6 1540.8L499.5 1604.7L479.5 1606.3L500.3 1552.7L484.9 1559.0L458.6 1605.5L509.8 1545.1L509.0 1574.4L496.5 1582.8L515.1 1598.2L519.2 1541.1L474.0 1547.8L488.8 1600.2L490.9 1553.4L481.9 1584.4L510.6 1544.2L486.0 1530.9L492.4 1526.9L489.8 1597.4L466.8 1576.8L497.9 1594.5L499.5 1550.4L468.4 1606.6L512.2 1560.6L503.4 1580.3L498.4 1559.8L467.3 1579.2L512.3 1538.4L491.0 1580.7L527.0 1568.4L504.8 1580.0L483.2 1536.8L506.4 1557.0L508.2 1533.2L494.1 1557.0L468.3 1601.1L459.8 1581.2L511.6 1579.1L474.2 1597.3L478.7 1603.4L475.7 1555.2L483.9 1558.0L473.1 1562.1L489.8 1562.9L523.0 1538.6L456.9 1600.4L497.5 1601.5L502.5 1587.9L481.9 1601.9L483.5 1585.9L490.8 1543.4L484.4 1569.4L500.4 1590.4L518.0 1526.8L537.5 1543.3L476.5 1599.5L465.8 1538.0L540.6 1527.4L496.7 1553.4L462.0 1601.3L465.2 1577.7L485.9 1595.7L461.2 1567.2L482.8 1581.7L509.8 1557.6L488.5 1556.1L494.6 1582.4L501.6 1585.3L480.5 1542.5L500.2 1578.5L473.3 1567.9L491.5 1556.5L467.1 1578.9L458.6 1601.2L514.5 1550.3L460.4 1585.8L474.7 1607.2L485.1 1574.4L507.6 1601.5L476.3 1528.6L523.4 1572.2L493.4 1572.0L506.7 1537.7L531.8 1526.9L488.0 1562.1L532.3 1524.7L481.3 1602.4L474.3 1603.0L474.2 1566.4L466.1 1582.4L527.3 1545.6L505.7 1549.8L470.3 1589.4L496.5 1580.9L497.0 1554.3L514.2 1576.1L518.6 1567.4L489.3 1585.2L485.7 1574.8L474.3 1604.3L467.5 1579.5L528.3 1534.7L479.0 1576.8L475.7 1568.8L517.3 1567.6L497.7 1546.2L516.9 1555.4L526.0 1551.1L487.7 1572.8L479.7 1544.3L487.7 1592.8L484.9 1587.2L485.8 1545.3L466.8 1601.3L465.0 1569.3L507.9 1544.9L510.8 1578.7L473.2 1556.4L482.8 1570.9L495.6 1602.1L521.2 1562.8L525.7 1550.0L502.6 1540.8L467.0 1603.7L495.5 1556.2L519.9 1576.7L518.2 1554.3L516.0 1542.8L506.9 1546.2L463.8 1575.8L479.0 1588.4L477.1 1567.7L491.1 1557.1L470.2 1526.7L482.0 1535.0L487.1 1559.4L469.5 1533.4L494.5 1599.1L486.7 1591.9L470.1 1551.4L505.9 1538.1L486.8 1547.3L477.5 1576.7L461.6 1606.0L523.4 1558.0L469.6 1577.6L466.7 1605.5L522.4 1528.2L529.1 1557.9L460.8 1599.5L524.7 1551.3L512.5 1576.1L534.7 1531.2L480.4 1591.1L506.1 1529.2L497.2 1573.1L478.8 1579.4L527.1 1529.8L497.5 1585.6L511.6 1601.7L475.0 1556.6L467.5 1549.8L530.3 1544.5L468.7 1595.0L500.4 1541.5L474.2 1594.1L465.1 1593.3L468.0 1565.4L509.3 1582.1L492.6 1533.2L474.8 1560.5L473.7 1604.1L490.3 1546.4L526.2 1546.8L458.8 1598.6L519.8 1550.7L482.3 1591.6L470.2 1596.5L467.5 1534.4L502.6 1578.8L474.3 1581.1L494.3 1552.7L465.2 1593.0L518.0 1593.2L512.4 1589.8L478.3 1585.1L490.7 1572.5L491.6 1562.4L496.2 1568.8L466.4 1602.2L468.4 1545.6L477.5 1534.5L510.2 1531.7L500.4 1565.3L462.3 1593.2L492.1 1549.6L507.0 1590.0L488.2 1539.1L496.9 1580.2L528.8 1523.7L461.8 1578.7L503.8 1588.4L505.1 1561.8L516.3 1559.1L522.1 1548.6L512.5 1601.4L466.7 1553.9L499.2 1578.3L476.9 1556.8L485.2 1539.9L466.0 1597.5L484.3 1534.9L508.0 1557.0L532.5 1546.3L472.1 1599.2L494.7 1535.7L500.4 1578.5L519.7 1540.7L492.6 1562.1L492.4 1596.4L460.3 1574.2L472.2 1557.3L492.4 1570.1L513.6 1542.0L458.6 1601.2L526.8 1555.3L495.1 1543.6L481.7 1551.8L504.4 1559.4L471.1 1557.3L487.0 1594.0L485.7 1587.4L502.0 1536.7L473.2 1547.2L479.9 1584.9L477.9 1606.1L511.6 1545.7L507.0 1548.5L521.1 1534.8L492.5 1554.4L488.9 1579.4L484.1 1561.7L521.1 1538.6L493.1 1569.7L476.7 1566.7L495.5 1563.7L463.7 1555.7L523.6 1530.8L521.1 1534.1L525.5 1545.4L491.4 1594.2L493.1 1532.0L466.6 1550.1L474.2 1556.8L513.2 1577.0L474.0 1546.6L512.4 1601.7L518.0 1564.9L469.6 1563.3L471.3 1582.1L493.6 1581.8L465.5 1554.4L497.4 1583.9L529.0 1553.1L505.3 1578.1L483.5 1564.4L490.1 1575.4L474.3 1542.1L480.8 1542.2L500.8 1606.4L519.7 1531.0L484.1 1585.2L530.4 1554.7L484.9 1542.1L478.4 1555.4L484.6 1536.0L471.7 1569.1L499.0 1529.6L505.9 1532.5L506.0 1549.9L525.5 1573.5L517.2 1587.1L497.2 1532.8L497.9 1563.3L505.6 1555.1L522.8 1538.7L470.5 1544.6L530.5 1555.0L491.2 1543.4L497.4 1588.2L480.0 1555.2L510.3 1575.9L505.9 1574.5L483.1 1542.8L468.8 1556.8L503.0 1551.3L482.2 1543.6L480.3 1552.4L463.6 1602.6L466.6 1560.8L482.1 1561.7L538.7 1536.7L491.4 1539.2L498.0 1555.6L529.6 1532.8L513.0 1548.0L492.7 1557.6L517.4 1540.8L469.7 1531.4L468.2 1543.7L535.7 1534.4L498.4 1550.0L529.2 1553.0L477.7 1555.1L492.8 1537.3L518.8 1587.2L488.8 1534.0L508.8 1546.3L523.0 1550.8L497.2 1536.6L468.4 1600.2L470.1 1574.7L517.1 1572.4L484.6 1557.7L517.5 1593.3L471.7 1559.6L510.0 1554.7L470.7 1586.7L486.4 1562.1L510.5 1579.4L470.4 1603.5L475.6 1542.6L527.9 1566.9L478.3 1535.1L500.2 1544.8L457.6 1597.2L487.3 1553.1L516.3 1541.2L513.0 1544.9L466.0 1588.3L474.7 1559.6L522.4 1545.0L487.2 1556.1L516.5 1554.8L473.8 1543.5L483.8 1551.4L490.4 1534.2L484.2 1577.5L492.9 1567.3L523.1 1546.1L494.7 1589.4L504.8 1563.5L515.0 1560.2L475.6 1567.3L492.5 1598.0L485.7 1590.8L469.6 1549.2L512.0 1554.0L469.7 1534.6L465.0 1604.4L485.0 1553.2L483.8 1562.8L492.4 1575.9L509.9 1566.0L472.4 1598.4L472.2 1554.3L524.8 1548.5L509.3 1583.7L485.0 1592.8L490.2 1585.1L509.6 1584.9L479.0 1588.5L480.2 1545.5L478.5 1580.3L499.4 1545.7L489.7 1591.7L466.7 1578.5L522.7 1573.8L510.0 1604.8L514.0 1543.7L480.2 1581.1L480.0 1541.8L475.0 1606.5L510.8 1594.7L527.6 1537.3L509.2 1554.9L498.5 1585.6L511.9 1567.2L495.0 1593.5L485.7 1578.6L506.1 1547.7L529.0 1545.5L504.0 1591.5L507.5 1553.5L504.4 1553.7L507.3 1606.0L460.8 1593.8L488.2 1535.5L462.9 1577.8L464.2 1595.9L483.1 1535.8L541.6 1525.4L490.7 1535.1L480.4 1543.2L506.5 1541.4L506.7 1586.9L531.9 1556.9L486.4 1553.7L503.9 1572.9L477.5 1596.3L508.2 1537.7L475.4 1602.1L481.6 1568.7L508.2 1592.8L520.0 1577.3L505.7 1600.0L483.4 1582.6L482.3 1559.4L512.9 1549.9L516.2 1571.5L523.7 1581.3L507.3 1537.0L502.6 1587.2L499.2 1600.2L472.5 1591.5L493.9 1532.8L492.0 1571.7L482.6 1546.5L509.9 1592.4L484.5 1531.6L481.8 1575.3L506.1 1595.3L489.5 1606.1L525.0 1571.2L504.6 1574.0L466.3 1605.5L475.0 1589.5L489.6 1563.0L466.6 1596.9L506.0 1568.7L537.5 1524.8L500.2 1601.6L519.8 1588.4L483.3 1539.7L529.6 1531.2L523.9 1563.9L529.1 1533.8L504.1 1545.4L471.4 1530.1L491.8 1576.2L504.8 1598.4L517.7 1590.3L496.4 1584.0L503.9 1529.1L518.6 1559.2L484.8 1537.2L518.2 1576.9L495.9 1580.5L511.9 1599.0L472.8 1591.6L526.0 1541.9L528.2 1568.3L525.3 1545.4L487.4 1547.2L522.6 1558.1L487.3 1572.0L489.7 1566.8L522.2 1570.9L487.8 1605.1L532.9 1539.9L521.3 1578.3L483.0 1583.7L523.9 1576.5L479.9 1602.0L471.2 1534.2L474.2 1547.3L501.9 1595.9L475.2 1548.6L524.5 1547.5L524.4 1544.7L491.7 1598.6L494.6 1544.2L516.4 1548.4L470.3 1546.2L534.8 1531.3L484.7 1570.3L524.1 1580.8L514.2 1568.1L513.0 1581.4L497.3 1560.3L484.6 1571.3L470.1 1570.9L492.7 1556.1L484.9 1538.3L519.7 1539.3L463.1 1581.7L474.0 1562.3L530.8 1545.7L460.9 1605.3L513.3 1533.8L462.7 1605.3L464.6 1595.9L479.1 1589.4L474.2 1548.3L518.1 1552.7L523.1 1528.4L480.7 1561.4L516.2 1552.7L492.5 1567.7L489.5 1530.3L464.8 1565.4L517.0 1531.7L494.9 1554.4L490.3 1594.0L469.7 1582.1L507.3 1552.4L490.6 1587.6L486.2 1586.8L505.8 1572.7L487.2 1562.2L507.5 1577.8L489.5 1574.6L473.3 1555.8L478.0 1563.6L508.5 1540.9L473.3 1601.6L504.7 1575.4L497.9 1542.5L473.2 1547.2L468.6 1595.3L490.4 1543.2L490.9 1573.9L495.2 1563.2L486.3 1532.2L487.3 1582.8L508.4 1547.7L461.9 1575.9L512.5 1534.7L509.5 1601.6L520.4 1569.6L483.0 1554.5L475.9 1557.0L517.9 1550.4L515.7 1560.2L475.3 1539.0L517.0 1547.5L512.3 1577.9L506.8 1552.0L509.0 1600.5L502.7 1564.2L482.2 1566.0L536.1 1530.4L497.6 1604.5L520.3 1531.4L478.8 1561.8L506.1 1574.3L471.1 1601.0L487.6 1583.0L478.0 1602.8L469.9 1534.9L513.2 1553.8L482.9 1547.6L489.0 1606.7L480.6 1577.4L528.8 1527.1L493.7 1545.5L507.3 1564.3L534.9 1531.5L492.4 1580.6L529.2 1532.0L510.5 1594.4L465.4 1569.2L522.6 1554.6L510.7 1584.1L460.9 1606.8L487.3 1549.0L513.0 1599.9L492.7 1573.6L510.7 1554.1L524.3 1527.9L471.9 1598.1L510.2 1602.2L487.8 1569.8L504.9 1558.6L504.3 1551.3L495.6 1579.0L507.7 1566.5L490.2 1578.8L469.2 1571.5L487.8 1579.4L518.8 1534.1L518.8 1575.4L524.4 1579.8L460.7 1604.2L484.7 1566.3L467.5 1547.6L517.8 1579.5L474.9 1534.8L510.0 1569.7L489.2 1594.6L526.7 1554.3L493.3 1584.6L523.4 1539.8L466.1 1534.2L514.1 1559.0L500.7 1593.9L513.9 1545.4L525.3 1531.7L503.3 1575.0L514.0 1552.8L490.5 1551.4L502.9 1546.6L511.6 1603.4L505.4 1564.0L489.0 1602.2L498.7 1586.7L472.5 1551.1L515.2 1531.0L464.8 1569.0L506.1 1532.8L473.3 1587.7L459.2 1582.3L478.8 1569.2L527.9 1535.1L482.5 1532.9L544.9 1520.5L511.5 1539.4L467.4 1585.1L486.8 1538.9L512.8 1590.6L491.7 1544.7L516.4 1571.4L470.1 1606.5L478.8 1594.1L529.2 1535.7L504.2 1539.0L500.3 1533.1L461.5 1592.9L484.8 1566.8L474.7 1537.2L475.8 1549.6L504.4 1589.9L498.4 1547.0L464.4 1585.1L470.8 1598.4L476.1 1532.0L500.4 1606.8L511.6 1566.0L506.6 1564.5L475.5 1597.4L506.5 1552.9L514.8 1498.1L488.3 1525.9L508.0 1500.7L549.2 1525.1L477.5 1514.3L510.1 1521.5L518.2 1494.0L488.4 1509.1L551.6 1493.3L563.2 1519.8L548.3 1524.1L486.0 1520.8L483.7 1515.7L490.4 1493.6L505.7 1519.8L542.9 1518.1L550.9 1511.4L506.4 1505.6L494.3 1504.4L514.1 1529.8L535.3 1500.3L543.3 1517.8L565.6 1516.5L500.5 1498.4L528.6 1481.7L558.9 1493.3L580.6 1517.8L491.2 1519.7L500.3 1516.4L518.8 1527.0L474.4 1516.8L495.0 1513.2L497.3 1498.2L570.6 1483.9L494.7 1520.2L548.8 1513.9L484.2 1524.5L542.3 1501.4L508.9 1525.3L517.8 1515.4L500.5 1504.2L480.8 1529.6L484.0 1524.3L510.2 1515.0L520.6 1500.7L520.6 1519.5L511.2 1503.0L538.3 1515.1L517.1 1528.1L535.1 1498.0L542.9 1476.4L525.3 1512.4L494.0 1500.6L497.5 1525.1L540.2 1518.6L489.0 1527.3L531.4 1508.4L561.3 1504.3L532.7 1524.2L555.2 1467.7L500.9 1503.4L488.8 1501.1L535.7 1517.3L512.1 1525.1L547.5 1470.3L473.9 1521.8L493.5 1509.1L511.3 1492.8L566.6 1512.6L552.5 1527.7L509.8 1526.6L470.9 1523.2L507.7 1502.3L485.6 1516.4L571.1 1514.9L495.3 1508.6L486.1 1523.6L544.3 1518.6L538.1 1500.9L492.5 1507.4L525.0 1513.5L505.2 1490.3L475.3 1528.6L523.7 1515.0L476.7 1515.9L540.9 1506.7L495.5 1517.9L546.8 1524.0L556.7 1528.3L533.8 1528.8L513.3 1485.1L500.6 1525.2L502.7 1520.3L493.5 1529.1L494.0 1496.0L524.3 1515.9L497.2 1525.2L496.1 1490.2L536.2 1523.3L485.3 1524.7L481.5 1507.2L492.8 1512.7L501.8 1490.8L501.7 1522.0L492.7 1498.1L495.1 1514.3L559.9 1498.4L498.6 1515.6L511.7 1504.7L534.4 1488.5L530.8 1521.3L491.9 1521.2L528.6 1486.0L480.8 1528.8L507.6 1520.7L509.7 1523.1L547.3 1478.9L539.1 1484.4L521.2 1511.6L516.6 1509.2L507.8 1514.9L482.1 1519.4L561.9 1500.7L557.6 1509.1L474.6 1516.8L557.6 1522.5L506.0 1512.8L481.8 1503.1L496.8 1522.3L493.5 1508.7L502.3 1512.5L511.5 1509.5L526.1 1481.1L485.5 1512.0L531.1 1518.9L578.9 1514.6L523.5 1497.3L515.2 1495.1L578.7 1490.7L513.5 1497.8L504.1 1504.6L506.7 1513.3L501.2 1505.1L533.7 1495.6L503.1 1526.4L501.9 1519.9L490.7 1512.1L497.5 1524.0L526.0 1520.8L537.3 1522.1L552.0 1489.1L561.6 1518.9L506.9 1525.2L560.4 1478.2L478.9 1527.8L501.7 1518.0L554.9 1487.2L483.2 1522.0L526.1 1521.9L485.1 1527.1L547.0 1510.1L517.4 1520.1L525.4 1518.8L491.0 1521.0L490.5 1495.3L477.3 1521.6L493.5 1525.3L567.9 1514.7L530.2 1513.3L516.9 1525.8L504.2 1486.2L491.6 1528.1L486.1 1517.8L502.6 1500.5L500.8 1510.8L479.9 1524.6L479.7 1527.4L510.7 1525.3L498.5 1528.3L540.2 1520.8L543.8 1492.4L478.7 1509.9L483.7 1528.4L532.2 1516.3L504.3 1525.7L519.6 1486.4L500.8 1497.1L532.2 1523.4L528.5 1510.8L491.5 1527.5L553.4 1511.4L505.7 1523.2L498.6 1520.2L551.0 1521.4L547.7 1495.0L554.5 1542.6L532.8 1568.7L537.0 1586.5L571.7 1544.6L575.5 1539.5L556.8 1537.2L548.4 1530.8L566.7 1531.2L549.4 1574.0L527.1 1596.6L549.6 1530.4L550.8 1557.1L544.9 1531.6L561.3 1549.1L550.8 1530.1L531.1 1596.7L563.5 1541.6L538.1 1568.6L536.8 1550.9L570.2 1547.1L572.9 1541.8L546.9 1569.6L521.8 1595.9L532.0 1569.8L547.1 1536.5L538.7 1543.3L532.2 1566.6L538.3 1551.8L551.3 1553.8L545.7 1577.9L551.5 1564.4L558.9 1563.3L566.6 1557.9L568.8 1532.6L572.4 1548.2L557.0 1551.2L525.4 1593.5L551.9 1529.2L535.4 1564.3L539.5 1568.2L552.7 1538.3L558.9 1564.5L563.7 1532.5L538.8 1563.6L535.3 1561.2L553.7 1567.4L561.3 1528.3L547.7 1579.3L562.1 1559.1L542.7 1577.2L564.7 1537.0L574.0 1535.6L540.2 1544.8L530.0 1583.5L554.0 1561.3L569.9 1541.3L574.1 1536.8L552.2 1552.3L528.4 1579.1L572.1 1535.9L564.3 1548.2L542.3 1541.5L556.8 1530.8L558.3 1561.5L558.4 1539.5L542.1 1584.5L546.1 1548.2L564.5 1561.7L562.8 1535.0L557.3 1553.6L558.8 1559.2L572.2 1550.9L542.4 1535.0L567.8 1537.5L538.8 1564.9L537.0 1574.9L559.6 1546.3L536.9 1574.0L527.5 1601.7L574.2 1534.9L537.8 1557.3L524.7 1604.5L552.8 1569.2L575.0 1546.4L548.1 1547.0L549.5 1544.9L558.8 1541.9L520.9 1608.1L569.9 1551.6L557.0 1554.6L531.3 1563.9L567.6 1552.3L531.7 1565.3L566.7 1546.3L549.6 1539.1" fill="none" stroke="none" marker-start="url(#m5)" marker-mid="url(#m5)" marker-end="url(#m5)"/>
<circle cx="157.9" cy="1489.6" r="3.8" fill="#1400f0"/>
<circle cx="672.3" cy="1272.2" r="3.8" fill="#f8200f"/>
<line x1="92.3" y1="1612.2" x2="777.6" y2="1612.2" stroke="#d0202a" stroke-width="1.3"/>
<text transform="translate(616.0 1265.5) scale(1.033 1)" font-size="21.7" font-weight="bold" fill="#1a1a1a" stroke="#1a1a1a" stroke-width="0.5">HHIP-AS1</text>
<text transform="translate(700.5 1333.2) scale(1.051 1)" font-size="21.7" font-weight="bold" fill="#1a1a1a" stroke="#1a1a1a" stroke-width="0.5">HHIP</text>
<text transform="translate(600.1 1354.8) scale(1.027 1)" font-size="21.7" font-weight="bold" fill="#1a1a1a" stroke="#1a1a1a" stroke-width="0.5">PROM1</text>
<text transform="translate(699.3 1403.6) scale(1.026 1)" font-size="21.7" font-weight="bold" fill="#1a1a1a" stroke="#1a1a1a" stroke-width="0.5">ANKRD1</text>
<text transform="translate(663.7 1452.8) scale(1.050 1)" font-size="21.7" font-weight="bold" fill="#1a1a1a" stroke="#1a1a1a" stroke-width="0.5">ACP5</text>
<text transform="translate(691.3 1506.6) scale(1.046 1)" font-size="21.7" font-weight="bold" fill="#1a1a1a" stroke="#1a1a1a" stroke-width="0.5">CEMIP</text>
<text transform="translate(95.9 1479.3) scale(1.058 1)" font-size="21.7" font-weight="bold" fill="#1a1a1a" stroke="#1a1a1a" stroke-width="0.5">DNASE1L3</text>
<text transform="translate(204.4 1497.6) scale(1.049 1)" font-size="21.7" font-weight="bold" fill="#1a1a1a" stroke="#1a1a1a" stroke-width="0.5">GIMAP5</text>
<text transform="translate(119.4 1543.6) scale(1.019 1)" font-size="21.7" font-weight="bold" fill="#1a1a1a" stroke="#1a1a1a" stroke-width="0.5">STC1</text>
<text transform="translate(124.3 1572.0) scale(1.078 1)" font-size="21.7" font-weight="bold" fill="#1a1a1a" stroke="#1a1a1a" stroke-width="0.5">H19</text>
<text transform="translate(117.3 1602.0) scale(1.061 1)" font-size="21.7" font-weight="bold" fill="#1a1a1a" stroke="#1a1a1a" stroke-width="0.5">IGFBP5</text>
<text transform="translate(1114.1 296.7) scale(1.100 1)" font-size="25">-log10 p-value</text>
<text transform="translate(1309.9 296.0) scale(1.093 1)" font-size="25">Cluster genes</text>
<text transform="translate(1148.8 336.2) scale(1.061 1)" font-size="25">5</text>
<text transform="translate(1261.3 336.2) scale(1.134 1)" font-size="25">7</text>
<rect x="1169" y="318.7" width="88.3" height="16.9" fill="url(#cb)"/>
<text x="0" y="0" font-size="25" text-anchor="middle" dominant-baseline="central" fill="#000" transform="translate(1339.2 311.0) rotate(-31) scale(1.08,1)">4</text>
<text x="0" y="0" font-size="25" text-anchor="middle" dominant-baseline="central" fill="#000" transform="translate(1359.1 311.0) rotate(-31) scale(1.08,1)">8</text>
<text x="0" y="0" font-size="25" text-anchor="middle" dominant-baseline="central" fill="#000" transform="translate(1382.8 315.6) rotate(-31) scale(1.08,1)">12</text>
<text x="0" y="0" font-size="25" text-anchor="middle" dominant-baseline="central" fill="#000" transform="translate(1415.2 313.7) rotate(-31) scale(1.08,1)">16</text>
<circle cx="1342.4" cy="342.7" r="1.9" fill="#000"/>
<circle cx="1362.8" cy="342.7" r="5.0" fill="#000"/>
<circle cx="1383.5" cy="342.7" r="6.9" fill="#000"/>
<circle cx="1404.1" cy="342.7" r="7.9" fill="#000"/>
<rect x="1229.9" y="364.9" width="150.6" height="201.6" fill="#fff" stroke="none"/>
<line x1="1246.4" y1="364.9" x2="1246.4" y2="566.5" stroke="#f3f3f3" stroke-width="1"/>
<line x1="1285.6" y1="364.9" x2="1285.6" y2="566.5" stroke="#f3f3f3" stroke-width="1"/>
<line x1="1325.3" y1="364.9" x2="1325.3" y2="566.5" stroke="#f3f3f3" stroke-width="1"/>
<line x1="1364.5" y1="364.9" x2="1364.5" y2="566.5" stroke="#f3f3f3" stroke-width="1"/>
<line x1="1266.0" y1="364.9" x2="1266.0" y2="566.5" stroke="#e9e9e9" stroke-width="1.2"/>
<line x1="1305.8" y1="364.9" x2="1305.8" y2="566.5" stroke="#e9e9e9" stroke-width="1.2"/>
<line x1="1344.7" y1="364.9" x2="1344.7" y2="566.5" stroke="#e9e9e9" stroke-width="1.2"/>
<line x1="1229.9" y1="388.7" x2="1380.5" y2="388.7" stroke="#e9e9e9" stroke-width="1.2"/>
<line x1="1229.9" y1="427.6" x2="1380.5" y2="427.6" stroke="#e9e9e9" stroke-width="1.2"/>
<line x1="1229.9" y1="466.2" x2="1380.5" y2="466.2" stroke="#e9e9e9" stroke-width="1.2"/>
<line x1="1229.9" y1="505.4" x2="1380.5" y2="505.4" stroke="#e9e9e9" stroke-width="1.2"/>
<line x1="1229.9" y1="544.5" x2="1380.5" y2="544.5" stroke="#e9e9e9" stroke-width="1.2"/>
<rect x="1229.9" y="364.9" width="150.6" height="201.6" fill="none" stroke="#808080" stroke-width="1.4"/>
<line x1="1266.0" y1="566.5" x2="1266.0" y2="570.0" stroke="#444" stroke-width="1.2"/>
<line x1="1305.8" y1="566.5" x2="1305.8" y2="570.0" stroke="#444" stroke-width="1.2"/>
<line x1="1344.7" y1="566.5" x2="1344.7" y2="570.0" stroke="#444" stroke-width="1.2"/>
<line x1="1226.9" y1="388.7" x2="1229.9" y2="388.7" stroke="#444" stroke-width="1"/>
<line x1="1226.9" y1="427.6" x2="1229.9" y2="427.6" stroke="#444" stroke-width="1"/>
<line x1="1226.9" y1="466.2" x2="1229.9" y2="466.2" stroke="#444" stroke-width="1"/>
<line x1="1226.9" y1="505.4" x2="1229.9" y2="505.4" stroke="#444" stroke-width="1"/>
<line x1="1226.9" y1="544.5" x2="1229.9" y2="544.5" stroke="#444" stroke-width="1"/>
<text transform="translate(1048.2 394.1) scale(1.102 1)" font-size="25">Cell migration</text>
<text transform="translate(871.3 430.9) scale(1.094 1)" font-size="25">Outflow tract morphogenesis</text>
<text transform="translate(1050.6 473.7) scale(1.099 1)" font-size="25">Cell adhesion</text>
<text transform="translate(1052.5 510.8) scale(1.094 1)" font-size="25">Angiogenesis</text>
<text transform="translate(924.0 550.6) scale(1.100 1)" font-size="25">Negative SMC migration</text>
<circle cx="1246.4" cy="388.7" r="5.4" fill="#dc2850"/>
<circle cx="1285.6" cy="427.6" r="2.2" fill="#2010f0"/>
<circle cx="1236.8" cy="466.2" r="5.4" fill="#c035b0"/>
<circle cx="1256.4" cy="505.4" r="4.6" fill="#f02018"/>
<circle cx="1374.3" cy="544.5" r="0.9" fill="#9030d0"/>
<text transform="translate(1220.4 604.3) scale(1.007 1)" font-size="26.5">0.04</text>
<text transform="translate(1289.2 604.3) scale(1.006 1)" font-size="26.5">0.08</text>
<text transform="translate(1357.5 604.3) scale(1.028 1)" font-size="26.5">0.12</text>
<text transform="translate(1250.5 634.4) scale(1.092 1)" font-size="25">Gene Ratio</text>
<text transform="translate(1789.8 291.3) scale(1.099 1)" font-size="25">-log10 p-value</text>
<text transform="translate(1989.5 290.8) scale(1.092 1)" font-size="25">Cluster genes</text>
<text transform="translate(1805.6 337.5) scale(1.123 1)" font-size="25">6</text>
<text transform="translate(1919.7 337.5) scale(1.045 1)" font-size="25">14</text>
<rect x="1827.8" y="321.8" width="88.0" height="17.5" fill="url(#cb)"/>
<text x="0" y="0" font-size="25" text-anchor="middle" dominant-baseline="central" fill="#000" transform="translate(2002.5 315.9) rotate(-34) scale(1.08,1)">7.5</text>
<text x="0" y="0" font-size="25" text-anchor="middle" dominant-baseline="central" fill="#000" transform="translate(2030.0 316.0) rotate(-34) scale(1.08,1)">10</text>
<text x="0" y="0" font-size="25" text-anchor="middle" dominant-baseline="central" fill="#000" transform="translate(2065.6 311.5) rotate(-34) scale(1.08,1)">12.5</text>
<text x="0" y="0" font-size="25" text-anchor="middle" dominant-baseline="central" fill="#000" transform="translate(2095.1 322.7) rotate(-34) scale(1.08,1)">15</text>
<circle cx="2015.3" cy="356.6" r="4.5" fill="#000"/>
<circle cx="2036.2" cy="356.6" r="6.2" fill="#000"/>
<circle cx="2057" cy="356.6" r="7.5" fill="#000"/>
<circle cx="2077.9" cy="356.6" r="8.7" fill="#000"/>
<rect x="1896.2" y="384.8" width="163.3" height="203.3" fill="#fff" stroke="none"/>
<line x1="1899.5" y1="384.8" x2="1899.5" y2="588.1" stroke="#f3f3f3" stroke-width="1"/>
<line x1="1942.9" y1="384.8" x2="1942.9" y2="588.1" stroke="#f3f3f3" stroke-width="1"/>
<line x1="1986.7" y1="384.8" x2="1986.7" y2="588.1" stroke="#f3f3f3" stroke-width="1"/>
<line x1="2030.0" y1="384.8" x2="2030.0" y2="588.1" stroke="#f3f3f3" stroke-width="1"/>
<line x1="1921.0" y1="384.8" x2="1921.0" y2="588.1" stroke="#e9e9e9" stroke-width="1.2"/>
<line x1="1964.8" y1="384.8" x2="1964.8" y2="588.1" stroke="#e9e9e9" stroke-width="1.2"/>
<line x1="2008.6" y1="384.8" x2="2008.6" y2="588.1" stroke="#e9e9e9" stroke-width="1.2"/>
<line x1="2051.4" y1="384.8" x2="2051.4" y2="588.1" stroke="#e9e9e9" stroke-width="1.2"/>
<line x1="1896.2" y1="408.0" x2="2059.5" y2="408.0" stroke="#e9e9e9" stroke-width="1.2"/>
<line x1="1896.2" y1="446.9" x2="2059.5" y2="446.9" stroke="#e9e9e9" stroke-width="1.2"/>
<line x1="1896.2" y1="486.5" x2="2059.5" y2="486.5" stroke="#e9e9e9" stroke-width="1.2"/>
<line x1="1896.2" y1="525.7" x2="2059.5" y2="525.7" stroke="#e9e9e9" stroke-width="1.2"/>
<line x1="1896.2" y1="565.3" x2="2059.5" y2="565.3" stroke="#e9e9e9" stroke-width="1.2"/>
<rect x="1896.2" y="384.8" width="163.3" height="203.3" fill="none" stroke="#808080" stroke-width="1.4"/>
<line x1="1921.0" y1="588.1" x2="1921.0" y2="591.6" stroke="#444" stroke-width="1.2"/>
<line x1="1964.8" y1="588.1" x2="1964.8" y2="591.6" stroke="#444" stroke-width="1.2"/>
<line x1="2008.6" y1="588.1" x2="2008.6" y2="591.6" stroke="#444" stroke-width="1.2"/>
<line x1="2051.4" y1="588.1" x2="2051.4" y2="591.6" stroke="#444" stroke-width="1.2"/>
<line x1="1893.2" y1="408.0" x2="1896.2" y2="408.0" stroke="#444" stroke-width="1"/>
<line x1="1893.2" y1="446.9" x2="1896.2" y2="446.9" stroke="#444" stroke-width="1"/>
<line x1="1893.2" y1="486.5" x2="1896.2" y2="486.5" stroke="#444" stroke-width="1"/>
<line x1="1893.2" y1="525.7" x2="1896.2" y2="525.7" stroke="#444" stroke-width="1"/>
<line x1="1893.2" y1="565.3" x2="1896.2" y2="565.3" stroke="#444" stroke-width="1"/>
<text transform="translate(1571.9 414.6) scale(1.100 1)" font-size="25">ERK1 and ERK2 cascade</text>
<text transform="translate(1607.6 450.4) scale(1.100 1)" font-size="25">Neutrophil chemotaxis</text>
<text transform="translate(1617.4 490.7) scale(1.100 1)" font-size="25">Monocyte chemotaxis</text>
<text transform="translate(1489.6 531.3) scale(1.097 1)" font-size="25">Ag presentation via MHC class II</text>
<text transform="translate(1541.5 570.5) scale(1.096 1)" font-size="25">Ig mediated imune response</text>
<circle cx="1903.9" cy="408" r="5.6" fill="#b03cc8"/>
<circle cx="1934" cy="446.9" r="4.2" fill="#c035b8"/>
<circle cx="1938.2" cy="486.5" r="1.3" fill="#2010f0"/>
<circle cx="2051.4" cy="525.7" r="4.7" fill="#f02018"/>
<circle cx="1951.9" cy="565.3" r="3.6" fill="#9a30e0"/>
<text transform="translate(1888.7 616.7) scale(0.921 1)" font-size="27.5">0.1</text>
<text transform="translate(1942.2 616.7) scale(0.998 1)" font-size="27.5">0.2</text>
<text transform="translate(1995.2 616.7) scale(0.992 1)" font-size="27.5">0.3</text>
<text transform="translate(2047.8 616.7) scale(0.982 1)" font-size="27.5">0.4</text>
<text transform="translate(1923.0 653.7) scale(1.071 1)" font-size="25.5">Gene Ratio</text>
<text transform="translate(1032.0 1254.0) scale(1.106 1)" font-size="25">-log10 p-value</text>
<text transform="translate(1232.5 1254.1) scale(1.098 1)" font-size="25">Cluster genes</text>
<text transform="translate(1043.3 1300.4) scale(1.024 1)" font-size="27">4.5</text>
<text transform="translate(1197.4 1300.4) scale(1.026 1)" font-size="27">7</text>
<rect x="1091.2" y="1282.1" width="97.2" height="19.4" fill="url(#cb)"/>
<line x1="1132.0" y1="1282.1" x2="1132.0" y2="1286.0" stroke="#fff" stroke-width="0.9"/>
<line x1="1132.0" y1="1297.6" x2="1132.0" y2="1301.5" stroke="#fff" stroke-width="0.9"/>
<line x1="1152.0" y1="1282.1" x2="1152.0" y2="1286.0" stroke="#fff" stroke-width="0.9"/>
<line x1="1152.0" y1="1297.6" x2="1152.0" y2="1301.5" stroke="#fff" stroke-width="0.9"/>
<line x1="1171.9" y1="1282.1" x2="1171.9" y2="1286.0" stroke="#fff" stroke-width="0.9"/>
<line x1="1171.9" y1="1297.6" x2="1171.9" y2="1301.5" stroke="#fff" stroke-width="0.9"/>
<text x="0" y="0" font-size="25" text-anchor="middle" dominant-baseline="central" fill="#000" transform="translate(1270.4 1273.1) rotate(-31) scale(1.08,1)">5</text>
<text x="0" y="0" font-size="25" text-anchor="middle" dominant-baseline="central" fill="#000" transform="translate(1292.8 1274.0) rotate(-31) scale(1.08,1)">10</text>
<text x="0" y="0" font-size="25" text-anchor="middle" dominant-baseline="central" fill="#000" transform="translate(1321.0 1276.5) rotate(-31) scale(1.08,1)">15</text>
<circle cx="1271.4" cy="1306.3" r="1.8" fill="#000"/>
<circle cx="1292.1" cy="1306.3" r="5.9" fill="#000"/>
<circle cx="1313.2" cy="1306.3" r="7.7" fill="#000"/>
<rect x="1138.8" y="1329.6" width="173.7" height="213.4" fill="#fff" stroke="none"/>
<line x1="1141.3" y1="1329.6" x2="1141.3" y2="1543.0" stroke="#f3f3f3" stroke-width="1"/>
<line x1="1188.1" y1="1329.6" x2="1188.1" y2="1543.0" stroke="#f3f3f3" stroke-width="1"/>
<line x1="1234.8" y1="1329.6" x2="1234.8" y2="1543.0" stroke="#f3f3f3" stroke-width="1"/>
<line x1="1281.7" y1="1329.6" x2="1281.7" y2="1543.0" stroke="#f3f3f3" stroke-width="1"/>
<line x1="1164.7" y1="1329.6" x2="1164.7" y2="1543.0" stroke="#e9e9e9" stroke-width="1.2"/>
<line x1="1211.5" y1="1329.6" x2="1211.5" y2="1543.0" stroke="#e9e9e9" stroke-width="1.2"/>
<line x1="1258.2" y1="1329.6" x2="1258.2" y2="1543.0" stroke="#e9e9e9" stroke-width="1.2"/>
<line x1="1305.3" y1="1329.6" x2="1305.3" y2="1543.0" stroke="#e9e9e9" stroke-width="1.2"/>
<line x1="1138.8" y1="1354.0" x2="1312.5" y2="1354.0" stroke="#e9e9e9" stroke-width="1.2"/>
<line x1="1138.8" y1="1394.9" x2="1312.5" y2="1394.9" stroke="#e9e9e9" stroke-width="1.2"/>
<line x1="1138.8" y1="1436.2" x2="1312.5" y2="1436.2" stroke="#e9e9e9" stroke-width="1.2"/>
<line x1="1138.8" y1="1477.1" x2="1312.5" y2="1477.1" stroke="#e9e9e9" stroke-width="1.2"/>
<line x1="1138.8" y1="1519.3" x2="1312.5" y2="1519.3" stroke="#e9e9e9" stroke-width="1.2"/>
<rect x="1138.8" y="1329.6" width="173.7" height="213.4" fill="none" stroke="#444" stroke-width="1.4"/>
<line x1="1164.7" y1="1543.0" x2="1164.7" y2="1546.5" stroke="#444" stroke-width="1.2"/>
<line x1="1211.5" y1="1543.0" x2="1211.5" y2="1546.5" stroke="#444" stroke-width="1.2"/>
<line x1="1258.2" y1="1543.0" x2="1258.2" y2="1546.5" stroke="#444" stroke-width="1.2"/>
<line x1="1305.3" y1="1543.0" x2="1305.3" y2="1546.5" stroke="#444" stroke-width="1.2"/>
<line x1="1135.8" y1="1354.0" x2="1138.8" y2="1354.0" stroke="#444" stroke-width="1"/>
<line x1="1135.8" y1="1394.9" x2="1138.8" y2="1394.9" stroke="#444" stroke-width="1"/>
<line x1="1135.8" y1="1436.2" x2="1138.8" y2="1436.2" stroke="#444" stroke-width="1"/>
<line x1="1135.8" y1="1477.1" x2="1138.8" y2="1477.1" stroke="#444" stroke-width="1"/>
<line x1="1135.8" y1="1519.3" x2="1138.8" y2="1519.3" stroke="#444" stroke-width="1"/>
<text transform="translate(898.5 1357.0) scale(1.098 1)" font-size="25">Response to VEGF</text>
<text transform="translate(836.2 1399.2) scale(1.097 1)" font-size="25">Response to Tumor cell</text>
<text transform="translate(812.8 1441.4) scale(1.089 1)" font-size="25">Tcell mediated cytotoxicity</text>
<text transform="translate(958.8 1484.5) scale(1.094 1)" font-size="25">Cell migration</text>
<text transform="translate(967.2 1527.4) scale(1.089 1)" font-size="25">Angiogenesis</text>
<circle cx="1211.5" cy="1354" r="1.3" fill="#2010f0"/>
<circle cx="1305.3" cy="1394.9" r="1.0" fill="#b030a0"/>
<circle cx="1211.5" cy="1436.2" r="1.0" fill="#8030d0"/>
<circle cx="1146.9" cy="1477.1" r="5.8" fill="#f02018"/>
<circle cx="1156" cy="1519.3" r="4.9" fill="#e02850"/>
<text transform="translate(1115.2 1575.8) scale(1.016 1)" font-size="27">0.05</text>
<text transform="translate(1183.4 1575.8) scale(0.944 1)" font-size="27">0.1</text>
<text transform="translate(1237.1 1575.8) scale(0.992 1)" font-size="27">0.15</text>
<text transform="translate(1305.8 1575.8) scale(0.996 1)" font-size="27">0.2</text>
<text transform="translate(1168.5 1609.6) scale(1.080 1)" font-size="25.3">Gene Ratio</text>
<text transform="translate(1774.6 1249.8) scale(1.102 1)" font-size="25">-log10 p-value</text>
<text transform="translate(1975.5 1254.1) scale(1.092 1)" font-size="25">Cluster genes</text>
<text transform="translate(1809.2 1290.3) scale(1.114 1)" font-size="25">6</text>
<text transform="translate(1915.8 1290.3) scale(1.025 1)" font-size="25">15</text>
<rect x="1831" y="1274.8" width="81.8" height="15.6" fill="url(#cb)"/>
<text x="0" y="0" font-size="25" text-anchor="middle" dominant-baseline="central" fill="#000" transform="translate(2003.4 1272.9) rotate(-34) scale(1.08,1)">20</text>
<text x="0" y="0" font-size="25" text-anchor="middle" dominant-baseline="central" fill="#000" transform="translate(2033.3 1272.9) rotate(-34) scale(1.08,1)">30</text>
<text x="0" y="0" font-size="25" text-anchor="middle" dominant-baseline="central" fill="#000" transform="translate(2058.4 1273.8) rotate(-34) scale(1.08,1)">40</text>
<circle cx="2005.2" cy="1303" r="4.9" fill="#000"/>
<circle cx="2024.8" cy="1303" r="6.2" fill="#000"/>
<circle cx="2044.7" cy="1303" r="7.5" fill="#000"/>
<rect x="1890.1" y="1320.3" width="138.2" height="190.2" fill="#fff" stroke="none"/>
<line x1="1905.3" y1="1320.3" x2="1905.3" y2="1510.5" stroke="#f3f3f3" stroke-width="1"/>
<line x1="1956.0" y1="1320.3" x2="1956.0" y2="1510.5" stroke="#f3f3f3" stroke-width="1"/>
<line x1="2006.3" y1="1320.3" x2="2006.3" y2="1510.5" stroke="#f3f3f3" stroke-width="1"/>
<line x1="1930.7" y1="1320.3" x2="1930.7" y2="1510.5" stroke="#e9e9e9" stroke-width="1.2"/>
<line x1="1981.0" y1="1320.3" x2="1981.0" y2="1510.5" stroke="#e9e9e9" stroke-width="1.2"/>
<line x1="1890.1" y1="1341.7" x2="2028.3" y2="1341.7" stroke="#e9e9e9" stroke-width="1.2"/>
<line x1="1890.1" y1="1379.0" x2="2028.3" y2="1379.0" stroke="#e9e9e9" stroke-width="1.2"/>
<line x1="1890.1" y1="1415.7" x2="2028.3" y2="1415.7" stroke="#e9e9e9" stroke-width="1.2"/>
<line x1="1890.1" y1="1452.7" x2="2028.3" y2="1452.7" stroke="#e9e9e9" stroke-width="1.2"/>
<line x1="1890.1" y1="1489.4" x2="2028.3" y2="1489.4" stroke="#e9e9e9" stroke-width="1.2"/>
<rect x="1890.1" y="1320.3" width="138.2" height="190.2" fill="none" stroke="#808080" stroke-width="1.4"/>
<line x1="1930.7" y1="1510.5" x2="1930.7" y2="1514.0" stroke="#444" stroke-width="1.2"/>
<line x1="1981.0" y1="1510.5" x2="1981.0" y2="1514.0" stroke="#444" stroke-width="1.2"/>
<line x1="1887.1" y1="1341.7" x2="1890.1" y2="1341.7" stroke="#444" stroke-width="1"/>
<line x1="1887.1" y1="1379.0" x2="1890.1" y2="1379.0" stroke="#444" stroke-width="1"/>
<line x1="1887.1" y1="1415.7" x2="1890.1" y2="1415.7" stroke="#444" stroke-width="1"/>
<line x1="1887.1" y1="1452.7" x2="1890.1" y2="1452.7" stroke="#444" stroke-width="1"/>
<line x1="1887.1" y1="1489.4" x2="1890.1" y2="1489.4" stroke="#444" stroke-width="1"/>
<text transform="translate(1524.2 1345.6) scale(1.097 1)" font-size="25">Response to oxidative stress</text>
<text transform="translate(1553.4 1382.9) scale(1.100 1)" font-size="25">Negative SMC proliferation</text>
<text transform="translate(1599.7 1419.6) scale(1.096 1)" font-size="25">Cytoplasmic translation</text>
<text transform="translate(1745.5 1455.3) scale(1.073 1)" font-size="25">Autophagy</text>
<text transform="translate(1718.9 1494.3) scale(1.088 1)" font-size="25">Angiogenesis</text>
<circle cx="1895.9" cy="1341.7" r="5.2" fill="#2a10f8"/>
<circle cx="1951.4" cy="1379" r="1.0" fill="#4020e0"/>
<circle cx="2021.9" cy="1415.7" r="5.5" fill="#f02018"/>
<circle cx="1895.9" cy="1452.7" r="4.9" fill="#2010f8"/>
<circle cx="1901.1" cy="1489.4" r="4.9" fill="#7a1eff"/>
<text transform="translate(1908.3 1542.8) scale(1.035 1)" font-size="26.5">0.2</text>
<text transform="translate(1976.7 1542.8) scale(1.021 1)" font-size="26.5">0.3</text>
<text transform="translate(1899.5 1571.0) scale(1.067 1)" font-size="25.5">Gene Ratio</text>
</svg></body></html>
